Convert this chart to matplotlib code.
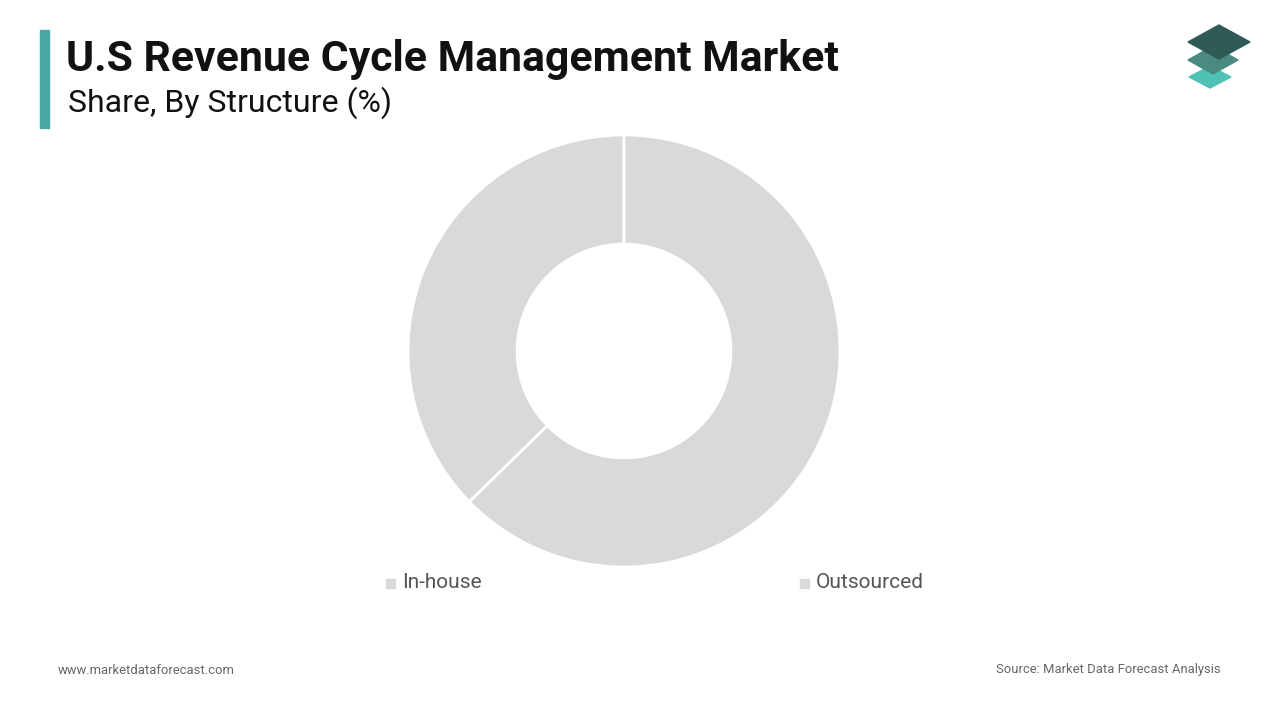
import matplotlib.pyplot as plt
from matplotlib.patches import Polygon, Rectangle

categories = ["In-house", "Outsourced"]
shares = [37.3, 62.7]
colors = ["#d9d9d9", "#d9d9d9"]

fig = plt.figure(figsize=(12.8, 7.2), dpi=100)
W, H = 1280, 720

# title block
fig.patches.append(Rectangle((40 / W, 1 - 128 / H), 9 / W, 98 / H,
                             transform=fig.transFigure, color="#4aa8a4"))
fig.text(66 / W, 1 - 60 / H, "U.S Revenue Cycle Management Market", fontsize=30.8,
         fontweight="bold", family="Roboto", va="center", color="#111111")
fig.text(68 / W, 1 - 103 / H, "Share, By Structure (%)", fontsize=23,
         family="Roboto", va="center", color="#111111")

# logo
def diamond(cx, cy, w, h, c):
    pts = [(cx - w / 2, cy), (cx, cy + h / 2), (cx + w / 2, cy), (cx, cy - h / 2)]
    fig.patches.append(Polygon([(x / W, 1 - y / H) for x, y in pts],
                               transform=fig.transFigure, color=c))
diamond(1210, 77, 42, 22, "#4fc1b5")
diamond(1213, 60, 50, 28, "#4a8a80")
diamond(1219, 42, 62, 34, "#2f5a55")

# donut
ax = fig.add_axes([408 / W, 1 - 567 / H, 432 / W, 432 / H])
ax.pie(shares, colors=colors, startangle=90, counterclock=True,
       wedgeprops=dict(width=0.505, edgecolor="white", linewidth=2))
ax.set_xlim(-1, 1)
ax.set_ylim(-1, 1)
ax.set_aspect("equal")

# legend
for x, lab in [(386, categories[0]), (800, categories[1])]:
    fig.patches.append(Rectangle(((x) / W, 1 - 588 / H), 9 / W, 9 / H,
                                 transform=fig.transFigure, color="#d9d9d9"))
    fig.text((x + 16) / W, 1 - 583 / H, lab, fontsize=15, family="Roboto",
             va="center", color="#555555")

fig.text(58 / W, 1 - 670 / H, "www.marketdataforecast.com", fontsize=9.4,
         family="Roboto", va="center", color="#666666")
fig.text(1221 / W, 1 - 670 / H, "Source: Market Data Forecast Analysis", fontsize=9.4,
         family="Roboto", va="center", ha="right", color="#666666")

fig.savefig("out.png", dpi=100)
